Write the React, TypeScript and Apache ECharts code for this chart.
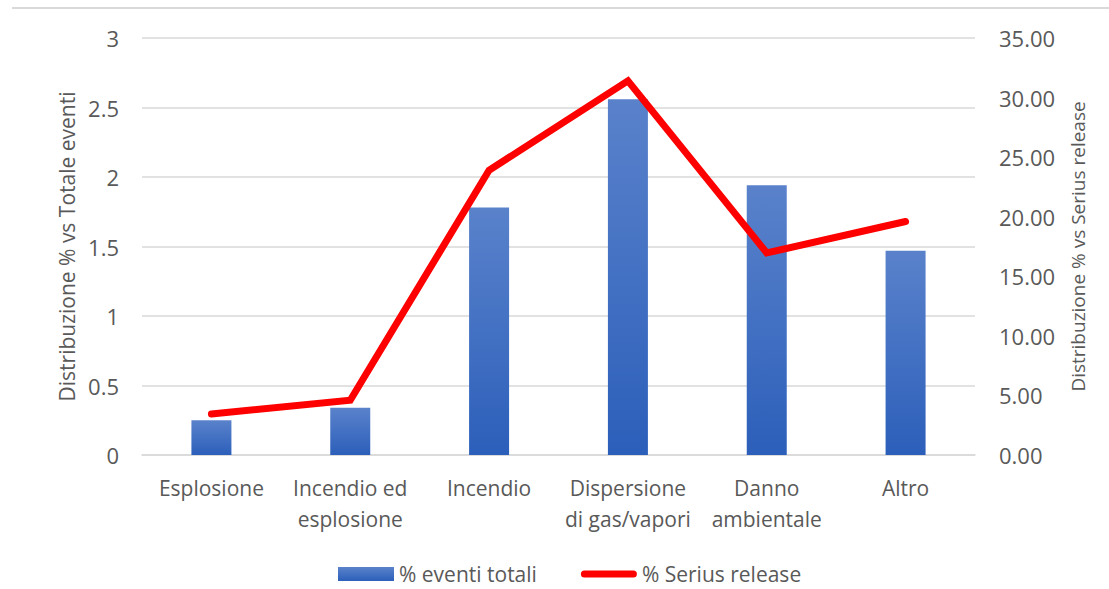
import React, { useEffect, useRef } from "react";
import * as echarts from "echarts";

const categories = ["Esplosione", "Incendio ed\nesplosione", "Incendio", "Dispersione\ndi gas/vapori", "Danno\nambientale", "Altro"];
const eventiTotali = [0.25, 0.34, 1.78, 2.56, 1.94, 1.47];
const seriusRelease = [3.44, 4.6, 23.9, 31.4, 16.96, 19.6];
const leftName = "Distribuzione % vs Totale eventi";
const rightName = "Distribuzione % vs Serius release";
const barName = "% eventi totali";
const lineName = "% Serius release";

const FONT = "Open Sans";
const GREY = "#595959";

export default function App() {
  const ref = useRef<HTMLDivElement>(null);
  useEffect(() => {
    document.body.style.margin = "0";
    if (!ref.current) return;
    const chart = echarts.init(ref.current, null, { renderer: "svg" });
    chart.setOption({
      animation: false,
      textStyle: { fontFamily: FONT },
      graphic: [
        { type: "line", shape: { x1: 12, y1: 8, x2: 1109, y2: 8 }, style: { stroke: "#d9d9d9", lineWidth: 2 } },
      ],
      grid: { left: 142, right: 134, top: 38, bottom: 134 },
      legend: {
        top: 561,
        left: 338,
        padding: 0,
        itemGap: 44,
        itemWidth: 56,
        itemHeight: 14,
        textStyle: { fontFamily: FONT, fontSize: 21, lineHeight: 26, color: GREY },
        data: [
          { name: barName, icon: "rect" },
          {
            name: lineName,
            icon: "path://M3.5,0 L52.5,0 A3.5,3.5 0 0 1 52.5,7 L3.5,7 A3.5,3.5 0 0 1 3.5,0 Z",
            itemStyle: { color: "#ff0000" },
          },
        ],
      },
      xAxis: {
        type: "category",
        data: categories,
        axisLine: { lineStyle: { color: "#d9d9d9", width: 1.5 } },
        axisTick: { show: false },
        axisLabel: { interval: 0, fontFamily: FONT, fontSize: 21, color: GREY, lineHeight: 31, margin: 17 },
      },
      yAxis: [
        {
          type: "value",
          min: 0,
          max: 3,
          interval: 0.5,
          name: leftName,
          nameLocation: "middle",
          nameGap: 63,
          nameTextStyle: { fontFamily: FONT, fontSize: 21, color: GREY },
          axisLine: { show: false },
          axisTick: { show: false },
          axisLabel: { fontFamily: FONT, fontSize: 22, color: GREY, margin: 23 },
          splitLine: { lineStyle: { color: "#d9d9d9", width: 1.5 } },
        },
        {
          type: "value",
          min: 0,
          max: 35,
          interval: 5,
          name: rightName,
          nameLocation: "middle",
          nameGap: 93,
          nameRotate: 90,
          nameTextStyle: { fontFamily: FONT, fontSize: 19, color: GREY },
          axisLine: { show: false },
          axisTick: { show: false },
          splitLine: { show: false },
          axisLabel: { fontFamily: FONT, fontSize: 22, color: GREY, margin: 24, formatter: (v: number) => v.toFixed(2) },
        },
      ],
      series: [
        {
          name: barName,
          type: "bar",
          yAxisIndex: 0,
          data: eventiTotali,
          barWidth: 40,
          itemStyle: {
            color: new echarts.graphic.LinearGradient(0, 0, 0, 1, [
              { offset: 0, color: "#5a82cb" },
              { offset: 1, color: "#2c5fba" },
            ]),
          },
        },
        {
          name: lineName,
          type: "line",
          yAxisIndex: 1,
          data: seriusRelease,
          symbol: "none",
          lineStyle: { color: "#ff0000", width: 7, cap: "round", join: "miter" },
          itemStyle: { color: "#ff0000" },
        },
      ],
    });
    return () => chart.dispose();
  }, []);
  return <div ref={ref} style={{ width: 1109, height: 589 }} />;
}
